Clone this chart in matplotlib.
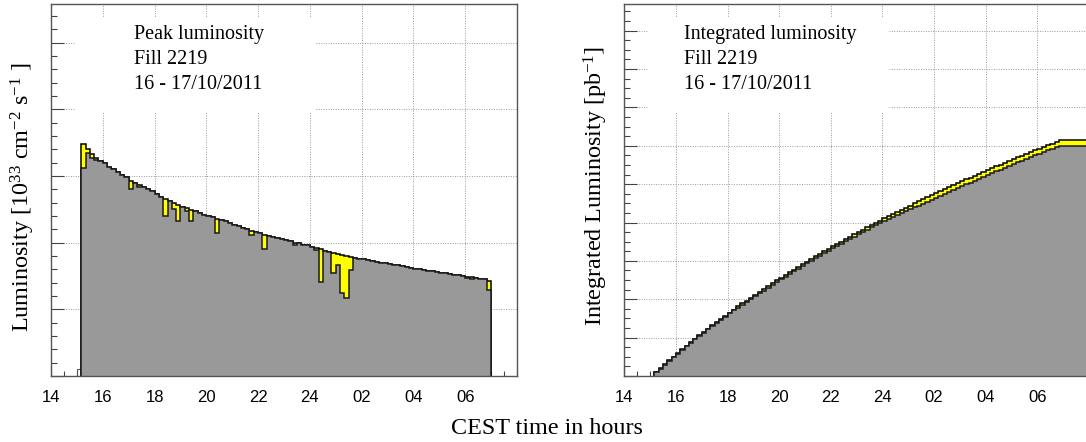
import numpy as np
import matplotlib
matplotlib.use('Agg')
import matplotlib.pyplot as plt
from matplotlib.patches import Rectangle
from matplotlib.ticker import MultipleLocator, FixedLocator, NullFormatter

plt.rcParams['font.family'] = ['Liberation Serif', 'DejaVu Serif']
plt.rcParams['mathtext.fontset'] = 'custom'
plt.rcParams['mathtext.rm'] = 'Liberation Serif'
plt.rcParams['mathtext.it'] = 'Liberation Serif:italic'

# ---------------- data ----------------
fill_start_hour = 15.0          # first (pre-fill) bin start, hours after midnight of 16/10
bin_width_hours = 1.0 / 6.0     # 10 minute bins
prefill_lumi = [0.10]           # tiny bin before stable beams (10^33 cm^-2 s^-1)

# peak (instantaneous) luminosity per bin, 10^33 cm^-2 s^-1
delivered_lumi = [
    3.48, 3.40, 3.33, 3.27, 3.23, 3.19, 3.14, 3.10, 3.06, 3.02,
    2.98, 2.93, 2.90, 2.87, 2.84, 2.80, 2.77, 2.73, 2.69, 2.65,
    2.62, 2.59, 2.56, 2.54, 2.52, 2.49, 2.47, 2.45, 2.42, 2.40,
    2.38, 2.36, 2.34, 2.32, 2.29, 2.27, 2.25, 2.22, 2.20, 2.18,
    2.16, 2.14, 2.12, 2.10, 2.09, 2.07, 2.05, 2.04, 2.02, 2.00,
    1.99, 1.97, 1.96, 1.94, 1.92, 1.90, 1.88, 1.86, 1.84, 1.83,
    1.81, 1.80, 1.78, 1.77, 1.76, 1.75, 1.74, 1.73, 1.71, 1.70,
    1.69, 1.68, 1.67, 1.66, 1.65, 1.63, 1.62, 1.61, 1.60, 1.59,
    1.58, 1.57, 1.56, 1.55, 1.54, 1.53, 1.52, 1.51, 1.50, 1.49,
    1.48, 1.47, 1.46, 1.45, 1.43]

recorded_lumi = [
    3.12, 3.34, 3.27, 3.24, 3.23, 3.19, 3.14, 3.10, 3.06, 3.02,
    2.98, 2.81, 2.90, 2.84, 2.84, 2.80, 2.77, 2.73, 2.69, 2.40,
    2.62, 2.51, 2.33, 2.54, 2.48, 2.32, 2.47, 2.45, 2.42, 2.40,
    2.38, 2.14, 2.34, 2.32, 2.29, 2.27, 2.25, 2.22, 2.20, 2.12,
    2.16, 2.14, 1.90, 2.10, 2.09, 2.07, 2.05, 2.04, 2.02, 1.96,
    1.99, 1.97, 1.96, 1.94, 1.89, 1.41, 1.88, 1.86, 1.55, 1.67,
    1.24, 1.17, 1.59, 1.77, 1.76, 1.75, 1.74, 1.73, 1.71, 1.70,
    1.69, 1.68, 1.67, 1.66, 1.65, 1.63, 1.62, 1.61, 1.60, 1.59,
    1.58, 1.57, 1.56, 1.55, 1.54, 1.53, 1.52, 1.51, 1.50, 1.47,
    1.46, 1.47, 1.46, 1.45, 1.29]

# integrated luminosity per bin, pb^-1 (continues flat after end of fill)
delivered_int = [
    2.09, 4.13, 6.13, 8.09, 10.03, 11.94, 13.82, 15.68, 17.52, 19.33,
    21.12, 22.88, 24.62, 26.34, 28.04, 29.72, 31.39, 33.02, 34.64, 36.23,
    37.80, 39.35, 40.89, 42.41, 43.93, 45.42, 46.90, 48.37, 49.82, 51.26,
    52.69, 54.11, 55.51, 56.90, 58.28, 59.64, 60.99, 62.32, 63.64, 64.95,
    66.25, 67.53, 68.80, 70.06, 71.32, 72.56, 73.79, 75.01, 76.22, 77.42,
    78.61, 79.80, 80.97, 82.14, 83.29, 84.43, 85.56, 86.67, 87.78, 88.87,
    89.96, 91.04, 92.11, 93.17, 94.23, 95.28, 96.32, 97.36, 98.39, 99.41,
    100.42, 101.43, 102.43, 103.43, 104.42, 105.39, 106.37, 107.33, 108.29, 109.25,
    110.19, 111.14, 112.07, 113.00, 113.93, 114.84, 115.76, 116.66, 117.56, 118.46,
    119.35, 120.23, 121.10, 121.97, 122.83,
    122.83, 122.83, 122.83, 122.83, 122.83, 122.83]

recorded_int = [
    1.87, 3.88, 5.84, 7.78, 9.72, 11.63, 13.52, 15.38, 17.21, 19.03,
    20.81, 22.50, 24.24, 25.94, 27.65, 29.33, 30.99, 32.63, 34.24, 35.68,
    37.25, 38.76, 40.16, 41.68, 43.17, 44.56, 46.04, 47.51, 48.97, 50.41,
    51.83, 53.12, 54.52, 55.91, 57.29, 58.65, 60.00, 61.33, 62.65, 63.92,
    65.22, 66.50, 67.64, 68.90, 70.16, 71.40, 72.63, 73.85, 75.07, 76.24,
    77.44, 78.62, 79.79, 80.96, 82.09, 82.94, 84.07, 85.18, 86.11, 87.11,
    87.86, 88.56, 89.51, 90.58, 91.63, 92.68, 93.73, 94.76, 95.79, 96.81,
    97.82, 98.83, 99.83, 100.83, 101.82, 102.80, 103.77, 104.74, 105.70, 106.65,
    107.60, 108.54, 109.48, 110.41, 111.33, 112.25, 113.16, 114.07, 114.97, 115.85,
    116.72, 117.61, 118.48, 119.35, 120.13,
    120.13, 120.13, 120.13, 120.13, 120.13, 120.13]

hour_ticks = [14, 16, 18, 20, 22, 24, 26, 28, 30]
hour_labels = ['14', '16', '18', '20', '22', '24', '02', '04', '06']

panel_titles = [["Peak luminosity", "Fill 2219", "16 - 17/10/2011"],
                ["Integrated luminosity", "Fill 2219", "16 - 17/10/2011"]]
ylabels = ["Luminosity [10$^{33}$ cm$^{-2}$ s$^{-1}$ ]",
           "Integrated Luminosity [pb$^{-1}$]"]
xlabel = "CEST time in hours"

# ---------------- figure ----------------
W, H = 1086, 442
fig = plt.figure(figsize=(W / 100, H / 100), dpi=100)
ax1 = fig.add_axes([51 / W, 1 - 376 / H, 466 / W, 372 / H])
ax2 = fig.add_axes([624.3 / W, 1 - 376 / H, 464.7 / W, 372 / H])

YELLOW = '#ffff00'
GREY = '#999999'


def style_axis(ax, ymax, ymajor, yminor):
    ax.set_xlim(14, 32)
    ax.set_ylim(0, ymax)
    ax.xaxis.set_major_locator(FixedLocator(hour_ticks))
    ax.set_xticklabels(hour_labels, fontfamily='Liberation Sans', fontsize=12)
    ax.xaxis.set_minor_locator(MultipleLocator(0.5))
    ax.yaxis.set_major_locator(MultipleLocator(ymajor))
    ax.yaxis.set_minor_locator(MultipleLocator(yminor))
    ax.yaxis.set_major_formatter(NullFormatter())
    ax.tick_params(which='both', direction='in', top=False, right=False,
                   labelleft=False, color='#444444', width=0.8)
    ax.tick_params(axis='x', which='major', length=7.7, pad=10)
    ax.tick_params(axis='x', which='minor', length=3.6)
    ax.tick_params(axis='y', which='major', length=9.4)
    ax.tick_params(axis='y', which='minor', length=4.3)
    ax.set_axisbelow(True)
    ax.grid(which='major', linestyle=(0, (1, 1.5)), color='#9a9a9a', lw=0.7)
    for s in ax.spines.values():
        s.set_color('#555555')
        s.set_linewidth(1.0)
    ax.add_patch(Rectangle((0.052, 0.71), 0.517, 0.255, transform=ax.transAxes,
                           facecolor='white', edgecolor='none', zorder=1))


style_axis(ax1, 5.58, 1.0, 0.2)
style_axis(ax2, 193.9, 20, 5)

main_start = fill_start_hour + bin_width_hours
edges1 = main_start + bin_width_hours * np.arange(len(delivered_lumi) + 1)
pre_edges = fill_start_hour + bin_width_hours * np.arange(len(prefill_lumi) + 1)
edges2 = main_start + bin_width_hours * np.arange(len(delivered_int) + 1)


def draw_hist(ax, deliv, rec, edges):
    ax.stairs(deliv, edges, fill=True, color=YELLOW, lw=0, zorder=2)
    ax.stairs(deliv, edges, baseline=0, color='black', lw=1.1, zorder=2.1)
    ax.stairs(rec, edges, fill=True, color=GREY, lw=0, zorder=2.2)
    ax.stairs(rec, edges, baseline=0, color='#1a1a1a', lw=1.1, zorder=2.3)


draw_hist(ax1, delivered_lumi, recorded_lumi, edges1)
ax1.stairs(prefill_lumi, pre_edges, baseline=0, color='#555555', lw=0.8, zorder=2)
draw_hist(ax2, delivered_int, recorded_int, edges2)

for ax, lines, tx in ((ax1, panel_titles[0], 0.179), (ax2, panel_titles[1], 0.1295)):
    for k, line in enumerate(lines):
        ax.text(tx, 0.9167 - k * 0.0665, line, transform=ax.transAxes,
                fontsize=14.5, va='center', ha='left', zorder=3)

ax1.set_ylabel(ylabels[0], fontsize=17.4)
ax1.yaxis.set_label_coords(-0.031, 0.481)
ax2.set_ylabel(ylabels[1], fontsize=17.4)
ax2.yaxis.set_label_coords(-0.031, 0.511)
fig.text(547 / W, 1 - 428 / H, xlabel, fontsize=17.4, ha='center', va='center')

fig.savefig('out.png', dpi=100)
